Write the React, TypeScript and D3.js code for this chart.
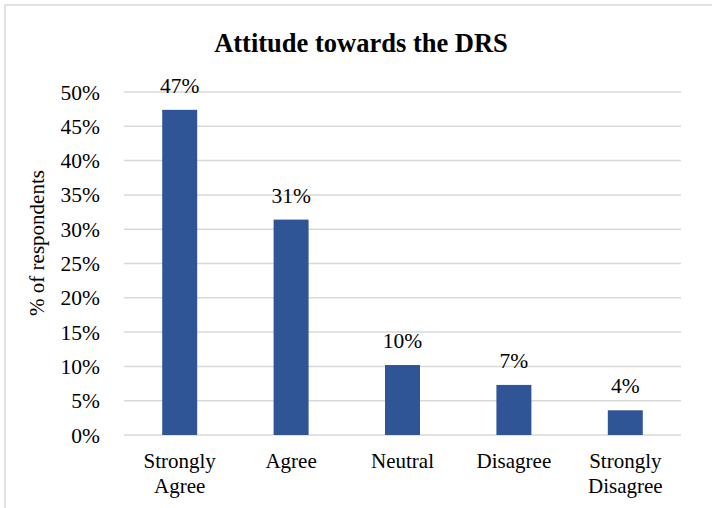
import React from "react";
import * as d3 from "d3";

const categories = ["Strongly Agree", "Agree", "Neutral", "Disagree", "Strongly Disagree"];
const categoryLines = [["Strongly", "Agree"], ["Agree"], ["Neutral"], ["Disagree"], ["Strongly", "Disagree"]];
const values = [0.474, 0.314, 0.102, 0.073, 0.036];
const valueLabels = ["47%", "31%", "10%", "7%", "4%"];
const yTicks = [0, 0.05, 0.1, 0.15, 0.2, 0.25, 0.3, 0.35, 0.4, 0.45, 0.5];

const W = 712;
const H = 508;
const FONT = "'Liberation Serif', 'Times New Roman', serif";

export default function App() {
  const x = d3.scaleBand<string>().domain(categories).range([124, 681]).paddingInner(0.686).paddingOuter(0.343);
  const y = d3.scaleLinear().domain([0, 0.5]).range([435, 92]);
  const fmt = d3.format(".0%");

  return (
    <svg width={W} height={H} style={{ position: "absolute", left: 0, top: 0, background: "#fff" }}>
      <rect x={5} y={5} width={W + 10} height={H + 10} fill="#fff" stroke="#d9d9d9" strokeWidth={1.5} />
      <text x={361} y={52} textAnchor="middle" fontFamily={FONT} fontWeight="bold" fontSize={26.5} fill="#000">
        Attitude towards the DRS
      </text>
      {yTicks.map((t) => (
        <g key={t}>
          <line x1={124} x2={681} y1={y(t)} y2={y(t)} stroke="#d9d9d9" strokeWidth={1.5} />
          <text x={100} y={y(t)} dy="0.35em" textAnchor="end" fontFamily={FONT} fontSize={21.5} fill="#000">
            {fmt(t)}
          </text>
        </g>
      ))}
      <text
        transform={`translate(44, 243) rotate(-90)`}
        textAnchor="middle"
        fontFamily={FONT}
        fontSize={21}
        fill="#000"
      >
        % of respondents
      </text>
      {categories.map((c, i) => {
        const bx = x(c)!;
        const cx = bx + x.bandwidth() / 2;
        return (
          <g key={c}>
            <rect x={bx} y={y(values[i])} width={x.bandwidth()} height={y(0) - y(values[i])} fill="#2f5597" />
            <text x={cx} y={y(values[i]) - 17} textAnchor="middle" fontFamily={FONT} fontSize={21.5} fill="#000">
              {valueLabels[i]}
            </text>
            {categoryLines[i].map((ln, j) => (
              <text key={j} x={cx} y={468 + j * 25} textAnchor="middle" fontFamily={FONT} fontSize={21} fill="#000">
                {ln}
              </text>
            ))}
          </g>
        );
      })}
    </svg>
  );
}
